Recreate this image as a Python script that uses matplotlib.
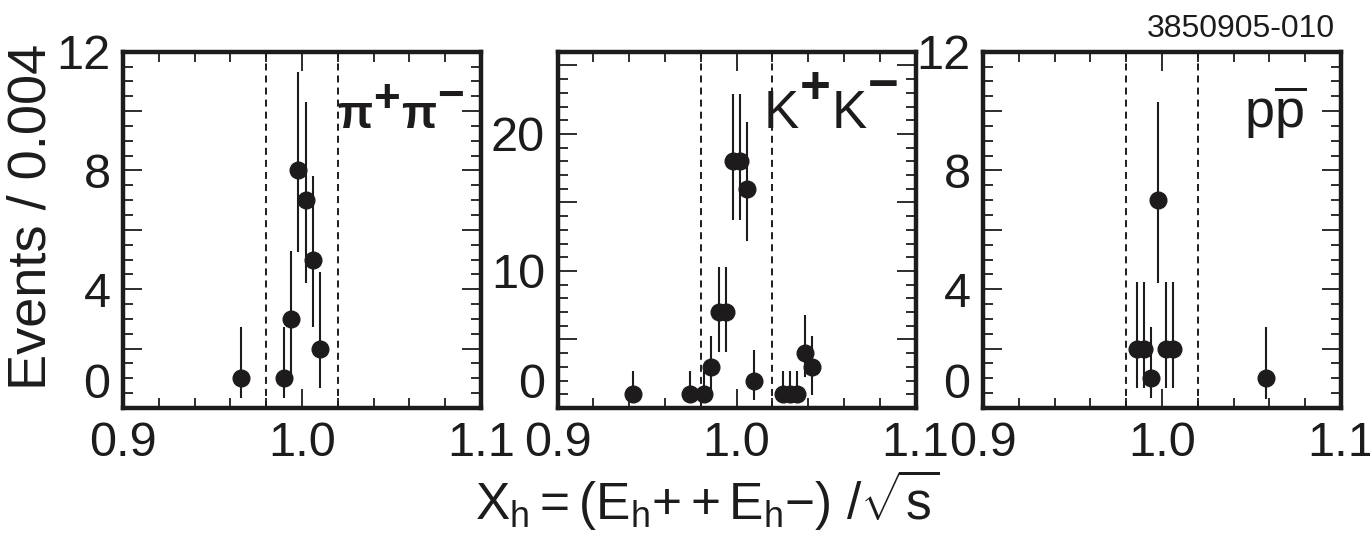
import numpy as np
import matplotlib.pyplot as plt
from matplotlib.ticker import MultipleLocator, FuncFormatter
from matplotlib.transforms import IdentityTransform

plt.rcParams['font.family'] = ['Liberation Sans', 'DejaVu Sans']
plt.rcParams['mathtext.fontset'] = 'custom'
plt.rcParams['mathtext.rm'] = 'Liberation Sans'
plt.rcParams['mathtext.it'] = 'Liberation Sans:italic'
plt.rcParams['mathtext.bf'] = 'Liberation Sans:bold'

INK = '#1e1b1c'

# ---- pi+ pi- ----
pi_x = [0.966, 0.990, 0.994, 0.998, 1.002, 1.006, 1.010]
pi_n = [1, 1, 3, 8, 7, 5, 2]
pi_lo = [0.67, 0.67, 1.9, 2.73, 2.78, 2.28, 1.34]
pi_hi = [1.74, 1.74, 2.30, 3.33, 3.32, 2.81, 2.57]

# ---- K+ K- ----
k_x = [0.942, 0.974, 0.982, 0.986, 0.990, 0.994, 0.998, 1.002, 1.006, 1.010,
       1.026, 1.030, 1.034, 1.038, 1.042]
k_n = [1, 1, 1, 3, 7, 7, 18, 18, 16, 2, 1, 1, 1, 4, 3]
k_lo = [0.63, 0.63, 0.63, 1.9, 2.89, 2.89, 4.28, 4.28, 3.79, 1.42,
        0.63, 0.63, 0.63, 1.71, 2.05]
k_hi = [1.72, 1.72, 1.72, 2.28, 3.31, 3.31, 4.9, 4.9, 4.9, 2.23,
        1.72, 1.72, 1.72, 2.76, 2.28]

# ---- p pbar ----
p_x = [0.986, 0.990, 0.994, 0.998, 1.002, 1.006, 1.058]
p_n = [2, 2, 1, 7, 2, 2, 1]
p_lo = [1.34, 1.34, 0.67, 2.78, 1.34, 1.34, 0.70]
p_hi = [2.25, 2.25, 1.74, 3.32, 2.25, 2.25, 1.74]

# channel names, split into (text, rise in px, bold) pieces
pi_name = [('π', 0, True), ('+', 16, True), ('π', 0, True), ('−', 19, True)]
k_name = [('K', 0, False), ('+', 25, True), ('K', 0, False), ('−', 27, True)]
p_name = [(r'$\mathregular{p\overline{p}}$', 0, False)]

panels = [
    dict(x=pi_x, n=pi_n, lo=pi_lo, hi=pi_hi, ymax=12, major=2, label_step=4,
         minor=0.5, name=pi_name, size=33, right=465),
    dict(x=k_x, n=k_n, lo=k_lo, hi=k_hi, ymax=26, major=5, label_step=10,
         minor=1, name=k_name, size=38, right=900),
    dict(x=p_x, n=p_n, lo=p_lo, hi=p_hi, ymax=12, major=2, label_step=4,
         minor=0.5, name=p_name, size=39, right=1307),
]
lefts = [123, 557.5, 983]
W, H = 1370, 539

fig = plt.figure(figsize=(W / 100, H / 100), dpi=100)
renderer = fig.canvas.get_renderer()


def name_label(pieces, size, right_px, base_px=128):
    """Write a channel name piece by piece, right edge at right_px."""
    arts, x = [], 0.0
    for s, rise, bold in pieces:
        t = fig.text(x, H - base_px + rise, s, transform=IdentityTransform(),
                     fontsize=size, fontweight='bold' if bold else 'normal',
                     ha='left', va='baseline', color=INK)
        x += t.get_window_extent(renderer).width + 1
        arts.append(t)
    shift = right_px - x
    for t in arts:
        t.set_x(t.get_position()[0] + shift)
    return arts


for left, p in zip(lefts, panels):
    ax = fig.add_axes([left / W, 131 / H, 358 / W, 356.3 / H])
    for xv in (0.98, 1.02):
        ax.axvline(xv, color=INK, lw=1.4, ls=(0, (3.6, 2.6)), zorder=1)
    ax.errorbar(p['x'], p['n'], yerr=[p['lo'], p['hi']], fmt='o', color=INK,
                ms=12, elinewidth=1.5, capsize=0, zorder=3, clip_on=False)
    ax.set_xlim(0.9, 1.1)
    ax.set_ylim(0, p['ymax'])
    ax.xaxis.set_major_locator(MultipleLocator(0.1))
    ax.xaxis.set_minor_locator(MultipleLocator(0.02))
    ax.xaxis.set_major_formatter(FuncFormatter(lambda v, pos: f'{v:.1f}'))
    ax.yaxis.set_major_locator(MultipleLocator(p['major']))
    ax.yaxis.set_minor_locator(MultipleLocator(p['minor']))
    step = p['label_step']
    ax.yaxis.set_major_formatter(FuncFormatter(
        lambda v, pos, s=step: f'{v:.0f}' if abs(v / s - round(v / s)) < 1e-6 else ''))
    ax.tick_params(which='both', direction='in', top=True, right=True,
                   width=1.3, color=INK, labelcolor=INK, labelsize=35)
    ax.tick_params(which='major', length=14)
    ax.tick_params(which='minor', length=7)
    ax.tick_params(axis='x', pad=9)
    ax.tick_params(axis='y', pad=9)
    for s in ax.spines.values():
        s.set_linewidth(3.2)
        s.set_color(INK)
    fig.canvas.draw()
    for t in ax.get_yticklabels():
        if t.get_text() == '0':
            t.set_va('bottom')
    name_label(p['name'], p['size'], p['right'])

fig.text(57 / W, (H - 217) / H, 'Events / 0.004', rotation=90,
         ha='right', va='center', fontsize=39, color=INK)
fig.text(707 / W, (H - 520) / H,
         r'$\mathregular{X_h = (E_h{+} + E_h{-})\ /\sqrt{s}}$',
         ha='center', va='baseline', fontsize=37, color=INK)
fig.text(1335 / W, (H - 37) / H, '3850905-010', ha='right', va='baseline',
         fontsize=23, color=INK)

fig.savefig('out.png', dpi=100)
